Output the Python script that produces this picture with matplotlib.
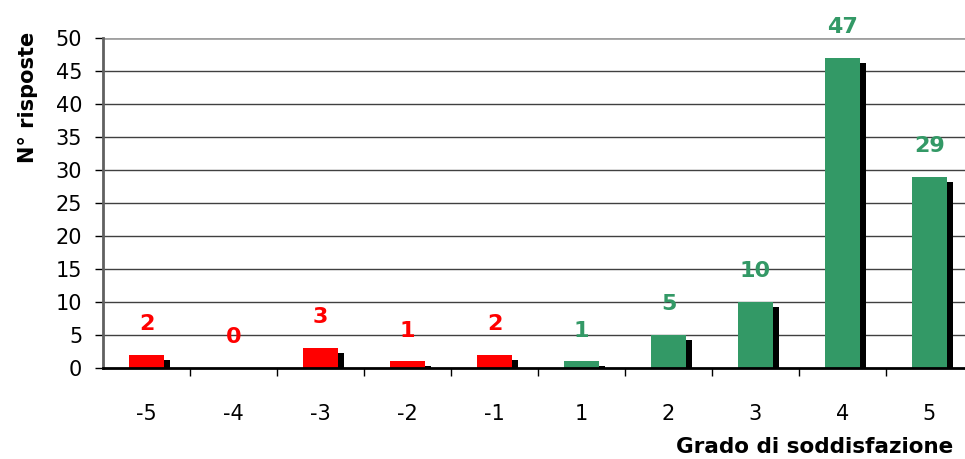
import matplotlib
matplotlib.use("Agg")
from matplotlib import pyplot as plt
import numpy as np

# Data
categories = ["-5", "-4", "-3", "-2", "-1", "1", "2", "3", "4", "5"]
risposte = [2, 0, 3, 1, 2, 1, 5, 10, 47, 29]
colori = ["#FF0000"] * 5 + ["#339966"] * 5

plt.rcParams['font.family'] = ['DejaVu Sans']

fig = plt.figure(figsize=(9.65, 4.59), dpi=100)
# axes run slightly past the right edge, like the original
ax = fig.add_axes([103 / 965, 91 / 459, 870 / 965, 330 / 459])

x = np.arange(len(categories))
width = 0.40
shadow_dx = 0.07
shadow_dy = 0.75

# Shadows first, then the coloured bars on top
shadow_h = [max(v - shadow_dy, 0) for v in risposte]
ax.bar(x + shadow_dx, shadow_h, width, color="black", zorder=2)
ax.bar(x, risposte, width, color=colori, zorder=3)

# Value labels above the bars
for xi, v, c in zip(x, risposte, colori):
    ax.annotate(str(v), (xi, v), xytext=(0, 15), textcoords="offset points",
                ha="center", va="bottom", color=c, fontsize=16,
                fontweight="bold")

ax.set_xlim(-0.5, len(categories) - 0.5)
ax.set_ylim(0, 50)
ax.set_yticks(range(0, 51, 5))
ax.tick_params(axis="y", labelsize=15, length=6, width=1, direction="out",
               pad=9)

# category labels between boundary ticks
ax.set_xticks(x + 0.5, minor=False)
ax.set_xticklabels([])
ax.set_xticks(x, minor=True)
ax.set_xticklabels(categories, minor=True)
ax.tick_params(axis="x", which="major", length=6, width=1, direction="out")
ax.tick_params(axis="x", which="minor", length=0, labelsize=15, pad=26)

for y in range(5, 50, 5):
    ax.axhline(y, color="#404040", lw=1, zorder=0.5)
ax.axhline(50, color="#a0a0a0", lw=2, zorder=0.5)

for s in ["top", "right"]:
    ax.spines[s].set_visible(False)
ax.spines["left"].set_color("#606060")
ax.spines["left"].set_linewidth(2)
ax.spines["bottom"].set_color("black")
ax.spines["bottom"].set_linewidth(2)
ax.spines["bottom"].set_zorder(4)

fig.text(28 / 965, 1 - 97 / 459, "N° risposte", rotation=90, ha="center",
         va="center", fontsize=15, fontweight="bold")
fig.text(953 / 965, 1 - 447 / 459, "Grado di soddisfazione", ha="right",
         va="center", fontsize=15.5, fontweight="bold")

fig.savefig("out.png", dpi=100)
